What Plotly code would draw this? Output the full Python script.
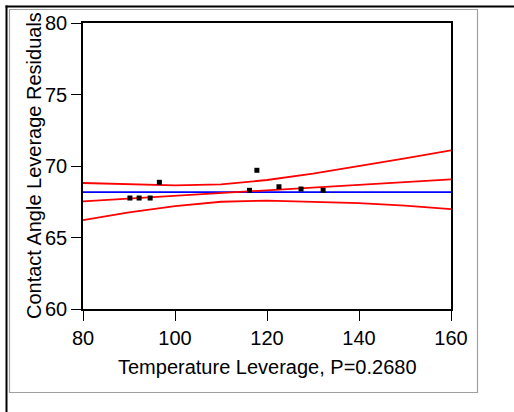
import plotly.graph_objects as go

# Leverage residuals for the Temperature effect
temp_leverage = [90.2, 92.2, 94.6, 96.6, 116.2, 117.8, 122.6, 127.4, 132.2]
residuals = [67.76, 67.76, 67.76, 68.86, 68.30, 69.70, 68.55, 68.39, 68.30]

# Horizontal reference line at the response mean
mean_x = [80, 160]
mean_y = [68.17, 68.17]

# Fitted leverage line
fit_x = [80, 160]
fit_y = [67.53, 69.07]

# Confidence curves around the fit
band_x = [80, 90, 100, 110, 120, 130, 140, 150, 160]
band_upper = [68.81, 68.70, 68.64, 68.72, 69.02, 69.47, 69.99, 70.53, 71.10]
band_lower = [66.22, 66.76, 67.20, 67.50, 67.58, 67.51, 67.41, 67.23, 66.99]

x_ticks = [80, 100, 120, 140, 160]
y_ticks = [60, 65, 70, 75, 80]

FONT = "Liberation Sans, Arial, sans-serif"
W, H = 514, 412
L, R, T, B = 83, 63, 23, 103
PW, PH = W - L - R, H - T - B


def px(xp):
    return (xp - L) / PW


def py(yp):
    return (H - B - yp) / PH


fig = go.Figure()

fig.add_trace(go.Scatter(x=mean_x, y=mean_y, mode="lines",
                         line=dict(color="#0000ff", width=1.6), hoverinfo="skip"))
for ys in (band_upper, band_lower):
    fig.add_trace(go.Scatter(x=band_x, y=ys, mode="lines",
                             line=dict(color="#ff0000", width=1.8), hoverinfo="skip"))
fig.add_trace(go.Scatter(x=fit_x, y=fit_y, mode="lines",
                         line=dict(color="#ff0000", width=1.8), hoverinfo="skip"))
fig.add_trace(go.Scatter(x=temp_leverage, y=residuals, mode="markers",
                         marker=dict(symbol="square", size=5, color="black",
                                     line=dict(width=0))))

axis_common = dict(
    showgrid=False, zeroline=False, showline=True, linecolor="black",
    linewidth=1.5, mirror=True, ticks="outside", ticklen=10, tickwidth=1.2,
    tickcolor="black", tickfont=dict(family=FONT, size=20, color="black"),
)

fig.update_xaxes(range=[80, 160], tickvals=x_ticks, **axis_common)
fig.update_yaxes(range=[60, 80], tickvals=y_ticks, **axis_common)

shapes = [
    # outer black rules along the top and left edges
    dict(type="line", xref="paper", yref="paper", x0=px(5.5), x1=px(515),
         y0=py(6.5), y1=py(6.5), line=dict(color="black", width=2)),
    dict(type="line", xref="paper", yref="paper", x0=px(6.5), x1=px(6.5),
         y0=py(5.5), y1=py(413), line=dict(color="black", width=2)),
    # grey panel border
    dict(type="rect", xref="paper", yref="paper", x0=px(9.5), x1=px(477.5),
         y0=py(392.5), y1=py(9.5), line=dict(color="#a0a0a0", width=1.2)),
]

annotations = [
    dict(text="Temperature Leverage, P=0.2680", xref="paper", yref="paper",
         x=0.5, y=py(367), xanchor="center", yanchor="middle", showarrow=False,
         font=dict(family=FONT, size=20, color="black")),
    dict(text="Contact Angle Leverage Residuals", xref="paper", yref="paper",
         x=px(34), y=0.5, xanchor="center", yanchor="middle", showarrow=False,
         textangle=-90, font=dict(family=FONT, size=20, color="black")),
]

fig.update_layout(
    width=W, height=H, margin=dict(l=L, r=R, t=T, b=B),
    paper_bgcolor="white", plot_bgcolor="white", showlegend=False,
    shapes=shapes, annotations=annotations,
)

fig.write_html("out.html")
